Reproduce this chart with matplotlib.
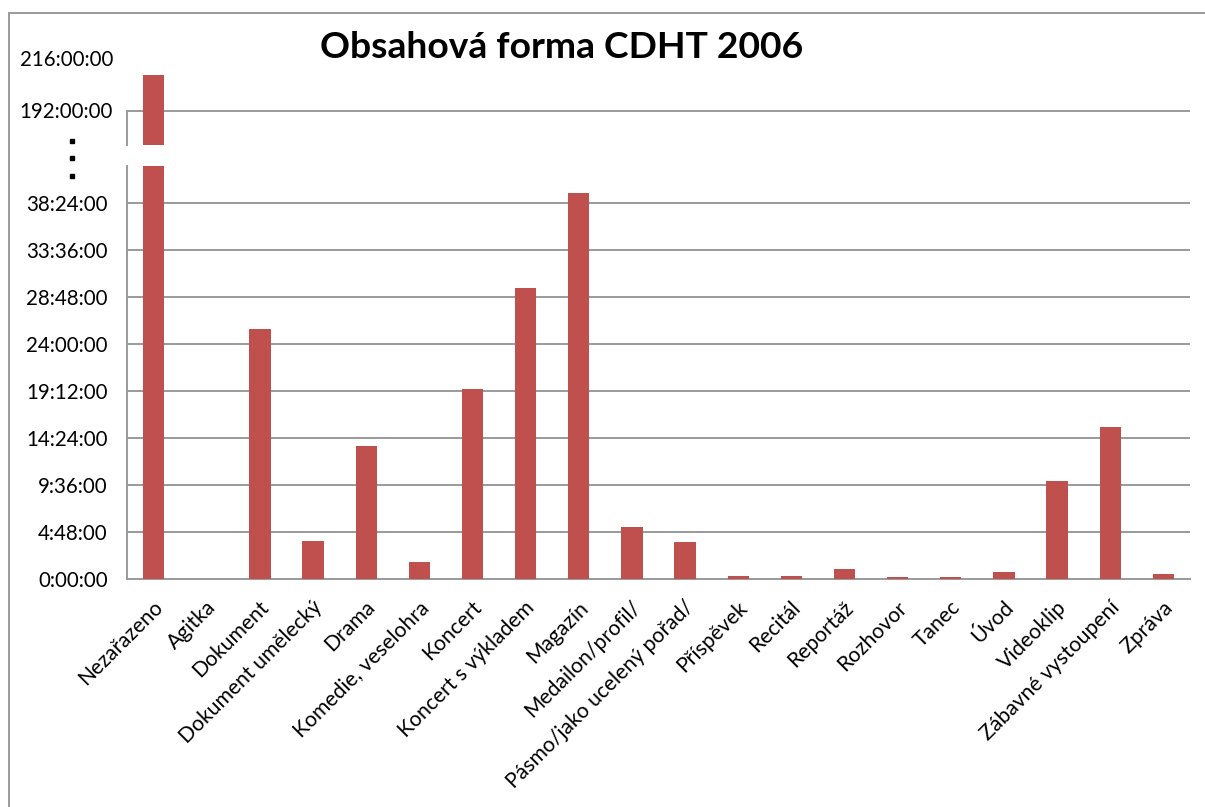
import matplotlib
matplotlib.use("Agg")
import matplotlib.pyplot as plt
from matplotlib.ticker import FixedLocator, FuncFormatter
from matplotlib.patches import Rectangle
from matplotlib.lines import Line2D
from matplotlib.transforms import ScaledTranslation

# ---------------- data ----------------
categories = ["Nezařazeno", "Agitka", "Dokument", "Dokument umělecký", "Drama",
              "Komedie, veselohra", "Koncert", "Koncert s výkladem", "Magazín",
              "Medailon/profil/", "Pásmo/jako ucelený pořad/", "Příspěvek",
              "Recitál", "Reportáž", "Rozhovor", "Tanec", "Úvod", "Videoklip",
              "Zábavné vystoupení", "Zpráva"]
hours = [208.1, 0.0, 25.57, 3.9, 13.6, 1.75, 19.4, 29.8, 39.5, 5.35, 3.77,
         0.38, 0.38, 1.1, 0.21, 0.21, 0.75, 10.0, 15.6, 0.55]
lower_ticks = [0, 4.8, 9.6, 14.4, 19.2, 24.0, 28.8, 33.6, 38.4]
upper_ticks = [192, 216]
title = "Obsahová forma CDHT 2006"

# ---------------- style ----------------
W, H = 1205, 807
plt.rcParams['font.family'] = ['Lato', 'DejaVu Sans']
bar_color = '#C0504D'
grid_color = '#9a9a9a'
ylabel_size = 14.8
xlabel_size = 15.2


def fx(px):
    return px / W


def fy(py):
    return 1 - py / H


def hms(v, pos=None):
    h = int(v + 1e-6)
    m = int(round((v - h) * 60))
    return f"{h}:{m:02d}:00"


fig = plt.figure(figsize=(W / 100, H / 100), dpi=100)
fig.patch.set_facecolor('white')

x_left, x_right = 127, 1190
base_y, low_top = 579.3, 166
px_per_h_low = (579.3 - 203.3) / 38.4
up_bottom, up_top = 145, 57.7
y192 = 110.5
px_per_h_up = (y192 - up_top) / 24.0

ax_low = fig.add_axes([fx(x_left), fy(base_y), fx(x_right) - fx(x_left),
                       (base_y - low_top) / H])
ax_up = fig.add_axes([fx(x_left), fy(up_bottom), fx(x_right) - fx(x_left),
                      (up_bottom - up_top) / H])

xs = list(range(len(categories)))
for ax in (ax_low, ax_up):
    ax.bar(xs, hours, width=0.4, color=bar_color, zorder=3)
    ax.set_xlim(-0.5, len(categories) - 0.5)
    ax.set_facecolor('none')
    for s in ('top', 'right'):
        ax.spines[s].set_visible(False)
    ax.spines['left'].set_color(grid_color)
    ax.spines['left'].set_linewidth(1.4)
    ax.yaxis.set_major_formatter(FuncFormatter(hms))
    ax.tick_params(axis='y', length=0, labelsize=ylabel_size, colors='black')
    ax.grid(axis='y', color=grid_color, linewidth=1.4, zorder=0)
    ax.set_axisbelow(True)

# lower part
ax_low.set_ylim(0, (base_y - low_top) / px_per_h_low)
ax_low.yaxis.set_major_locator(FixedLocator(lower_ticks))
ax_low.tick_params(axis='y', pad=14)
ax_low.spines['bottom'].set_color(grid_color)
ax_low.spines['bottom'].set_linewidth(1.4)
ax_low.set_xticks(xs)
ax_low.set_xticklabels(categories, rotation=45, ha='right', va='center',
                       rotation_mode='anchor', fontsize=xlabel_size)
ax_low.tick_params(axis='x', length=0, pad=18)
for lab in ax_low.get_xticklabels():
    lab.set_transform(lab.get_transform() +
                      ScaledTranslation(0.06, 0, fig.dpi_scale_trans))

# upper part
ax_up.set_ylim(192 - (up_bottom - y192) / px_per_h_up, 216)
ax_up.yaxis.set_major_locator(FixedLocator(upper_ticks))
ax_up.tick_params(axis='y', pad=10)
ax_up.spines['bottom'].set_visible(False)
ax_up.spines['left'].set_bounds(192 - (up_bottom - y192) / px_per_h_up, 192)
ax_up.set_xticks([])
gl = ax_up.get_ygridlines()
gl[1].set_visible(False)
for lab in ax_up.get_yticklabels():
    lab.set_clip_on(False)

# break marker (three dots)
fig.add_artist(Line2D([fx(71.7)] * 3, [fy(141), fy(158), fy(175.5)],
                      transform=fig.transFigure, linestyle='none',
                      marker='s', markersize=3.2, color='black'))

# title
fig.text(fx(562), fy(48), title, ha='center', va='center',
         fontsize=26.8, fontweight='bold', color='black')

# outer chart border (left and top visible)
fig.add_artist(Rectangle((fx(9.3), -0.1), 1.2, fy(13.3) + 0.1,
                         transform=fig.transFigure, fill=False,
                         edgecolor='#9a9a9a', linewidth=1.4))

fig.savefig('out.png', dpi=100)
